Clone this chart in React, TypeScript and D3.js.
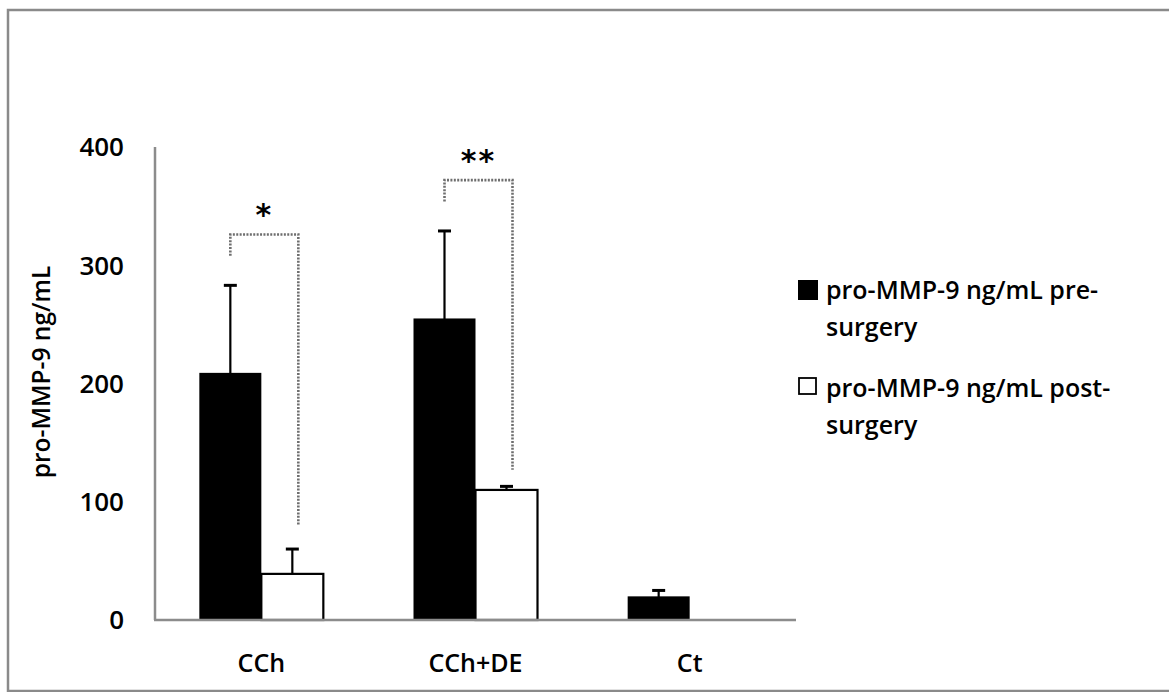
import React from 'react';
import * as d3 from 'd3';

const categories = ['CCh', 'CCh+DE', 'Ct'];
const series = ['pre', 'post'];
const legendLabels = [
  ['pro-MMP-9 ng/mL pre-', 'surgery'],
  ['pro-MMP-9 ng/mL post-', 'surgery'],
];
const preValues = [209, 255, 20];
const postValues = [39, 110, 0];
const preErrors = [74, 74, 5];
const postErrors = [21, 3, 0];
const yTicks = [0, 100, 200, 300, 400];

// significance brackets (in data units)
const sigCategories = ['CCh', 'CCh+DE'];
const sigTop = [326, 372];
const sigLeftEnd = [308, 354];
const sigRightEnd = [80, 127];
const sigLabels = ['*', '**'];
const sigLabelAt = [348, 394];

const W = 1169;
const H = 692;
const font = '"Open Sans", "DejaVu Sans", sans-serif';

const App = () => {
  const x0 = d3.scaleBand().domain(categories).range([155, 796]).paddingInner(0.421).paddingOuter(0.207);
  const x1 = d3.scaleBand().domain(series).range([0, x0.bandwidth()]);
  const y = d3.scaleLinear().domain([0, 400]).range([620, 147]);

  const rows = categories.map((c, i) => ({
    cat: c,
    bars: [
      { key: 'pre', v: preValues[i], e: preErrors[i] },
      { key: 'post', v: postValues[i], e: postErrors[i] },
    ],
  }));

  const bw = x1.bandwidth();

  return (
    <svg width={W} height={H} style={{ position: 'absolute', left: 0, top: 0, background: '#fff' }}>
      <rect x={8} y={10} width={1180} height={681} fill="#fff" stroke="#8a8a8a" strokeWidth={2.5} />

      {/* y axis */}
      <line x1={155} x2={155} y1={y(400)} y2={y(0)} stroke="#8c8c8c" strokeWidth={2.5} />
      {yTicks.map(t => (
        <text key={t} x={124} y={y(t)} dy="0.36em" textAnchor="end" fontFamily={font} fontWeight={600} fontSize={26} fill="#000">
          {t}
        </text>
      ))}
      <text
        transform={`translate(50, 372) rotate(-90)`}
        textAnchor="middle"
        fontFamily={font}
        fontWeight={600}
        fontSize={24.5}
        fill="#000"
      >
        pro-MMP-9 ng/mL
      </text>

      {/* bars */}
      {rows.map(r => (
        <g key={r.cat} transform={`translate(${x0(r.cat)},0)`}>
          {r.bars.filter(b => b.v > 0).map(b => (
            <g key={b.key}>
              <line
                x1={x1(b.key)! + bw / 2}
                x2={x1(b.key)! + bw / 2}
                y1={y(b.v) + 4}
                y2={y(b.v + b.e)}
                stroke="#000"
                strokeWidth={2.2}
              />
              <line
                x1={x1(b.key)! + bw / 2 - 6.5}
                x2={x1(b.key)! + bw / 2 + 6.5}
                y1={y(b.v + b.e)}
                y2={y(b.v + b.e)}
                stroke="#000"
                strokeWidth={3}
              />
              {b.key === 'pre' ? (
                <rect x={x1(b.key)} y={y(b.v)} width={bw} height={y(0) - y(b.v)} fill="#000" />
              ) : (
                <rect
                  x={x1(b.key)}
                  y={y(b.v)}
                  width={bw}
                  height={y(0) - y(b.v)}
                  fill="#fff"
                  stroke="#000"
                  strokeWidth={2.2}
                />
              )}
            </g>
          ))}
        </g>
      ))}

      {/* x axis */}
      <line x1={154} x2={796} y1={y(0)} y2={y(0)} stroke="#8c8c8c" strokeWidth={2.5} />
      {categories.map(c => (
        <text
          key={c}
          x={x0(c)! + x0.bandwidth() / 2}
          y={672}
          textAnchor="middle"
          fontFamily={font}
          fontWeight={600}
          fontSize={25}
          fill="#000"
        >
          {c}
        </text>
      ))}

      {/* significance brackets */}
      {sigCategories.map((c, i) => {
        const xl = x0(c)! + x1('pre')! + bw / 2;
        const xr = x0(c)! + x1('post')! + bw / 2 + 6;
        const path = d3.path();
        path.moveTo(xl, y(sigLeftEnd[i]));
        path.lineTo(xl, y(sigTop[i]));
        path.lineTo(xr, y(sigTop[i]));
        path.lineTo(xr, y(sigRightEnd[i]));
        return (
          <g key={c}>
            <path d={path.toString()} fill="none" stroke="#6e6e6e" strokeWidth={2.6} strokeDasharray="2,1.4" />
            <text
              x={(xl + xr) / 2}
              y={y(sigLabelAt[i]) + 17}
              textAnchor="middle"
              fontFamily='"DejaVu Sans", sans-serif'
              fontWeight="bold"
              fontSize={30}
              letterSpacing={2}
              fill="#000"
            >
              {sigLabels[i]}
            </text>
          </g>
        );
      })}

      {/* legend */}
      {legendLabels.map((lines, i) => {
        const top = i === 0 ? 280 : 378;
        return (
          <g key={i}>
            {i === 0 ? (
              <rect x={798} y={top} width={20} height={20} fill="#000" />
            ) : (
              <rect x={799} y={top} width={17} height={16} fill="#fff" stroke="#000" strokeWidth={1.8} />
            )}
            {lines.map((l, j) => (
              <text key={j} x={826} y={top + 19 + j * 37} fontFamily={font} fontWeight={600} fontSize={25} fill="#000">
                {l}
              </text>
            ))}
          </g>
        );
      })}
    </svg>
  );
};

export default App;
